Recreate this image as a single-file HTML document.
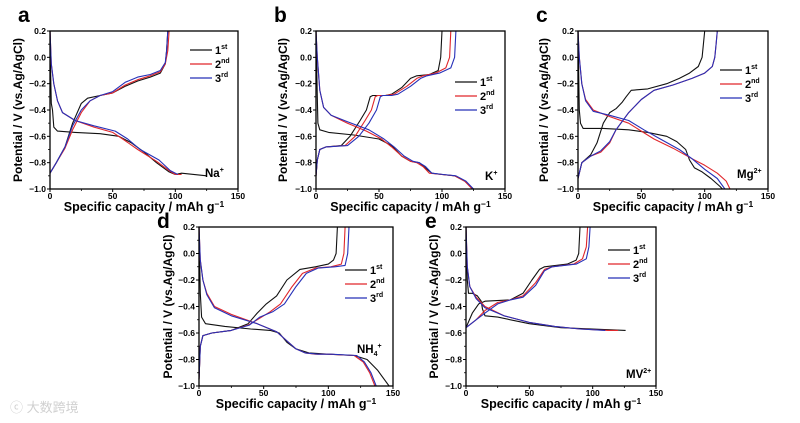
<!DOCTYPE html>
<html><head><meta charset="utf-8"><style>
html,body{margin:0;padding:0;background:#fff;}
svg{display:block;font-family:"Liberation Sans","Noto Sans CJK SC",sans-serif;}
</style></head><body>
<svg id="fig" width="800" height="423" viewBox="0 0 800 423"></svg>
<script>
// ---- data: [capacity mAh/g, potential V] ----
const a_dis_1 = [[0,0.2],[0.5,-0.1],[1,-0.35],[2,-0.4],[3,-0.53],[6,-0.56],[20,-0.57],[40,-0.58],[55,-0.6],[65,-0.65],[75,-0.72],[85,-0.8],[95,-0.87],[100,-0.89],[105,-0.88],[125,-0.9]];
const a_dis_2 = [[0,0.2],[1,-0.05],[3,-0.2],[6,-0.33],[10,-0.42],[20,-0.48],[35,-0.53],[50,-0.57],[58,-0.62],[70,-0.7],[85,-0.79],[95,-0.86],[100,-0.89],[105,-0.89]];
const a_dis_3 = [[0,0.2],[1,-0.05],[3,-0.2],[6,-0.33],[10,-0.42],[20,-0.48],[35,-0.52],[52,-0.56],[62,-0.62],[72,-0.7],[87,-0.78],[96,-0.86],[102,-0.89]];
const a_chg_1 = [[0,-0.88],[5,-0.8],[12,-0.68],[18,-0.5],[25,-0.35],[30,-0.31],[40,-0.29],[50,-0.27],[60,-0.22],[70,-0.18],[80,-0.15],[88,-0.12],[92,-0.05],[93,0.05],[94,0.2]];
const a_chg_2 = [[0,-0.88],[5,-0.8],[12,-0.69],[18,-0.55],[25,-0.42],[32,-0.33],[40,-0.29],[50,-0.27],[60,-0.21],[70,-0.17],[80,-0.14],[88,-0.11],[92,-0.05],[94,0.05],[95,0.2]];
const a_chg_3 = [[0,-0.88],[5,-0.8],[12,-0.68],[18,-0.52],[25,-0.4],[32,-0.33],[40,-0.29],[50,-0.26],[60,-0.19],[70,-0.15],[80,-0.13],[88,-0.1],[92,-0.04],[93,0.05],[94,0.2]];

const b_dis_1 = [[0,0.2],[1,-0.3],[1.5,-0.5],[3,-0.55],[10,-0.57],[30,-0.59],[50,-0.62],[60,-0.67],[68,-0.75],[75,-0.79],[82,-0.8],[88,-0.85],[92,-0.88],[100,-0.89],[110,-0.9],[118,-0.94],[125,-1.0]];
const b_dis_2 = [[0,0.2],[1,0],[3,-0.25],[6,-0.38],[12,-0.44],[25,-0.5],[40,-0.56],[52,-0.62],[60,-0.68],[68,-0.75],[75,-0.79],[80,-0.8],[85,-0.83],[90,-0.88],[100,-0.89],[110,-0.9],[118,-0.94],[124,-1.0]];
const b_dis_3 = [[0,0.2],[1,0],[3,-0.25],[6,-0.38],[12,-0.44],[25,-0.49],[42,-0.55],[54,-0.62],[62,-0.68],[70,-0.75],[77,-0.79],[82,-0.8],[87,-0.83],[92,-0.88],[101,-0.89],[111,-0.9],[119,-0.94],[125,-1.0]];
const b_chg_1 = [[0,-0.9],[1,-0.78],[3,-0.7],[8,-0.68],[20,-0.67],[27,-0.6],[35,-0.48],[40,-0.4],[43,-0.3],[45,-0.29],[55,-0.29],[60,-0.28],[68,-0.23],[75,-0.16],[80,-0.14],[90,-0.13],[97,-0.1],[99,0],[100,0.2]];
const b_chg_2 = [[0,-0.9],[1,-0.78],[3,-0.7],[8,-0.68],[23,-0.67],[31,-0.6],[39,-0.48],[44,-0.4],[47,-0.3],[49,-0.29],[55,-0.29],[62,-0.28],[72,-0.22],[80,-0.16],[85,-0.14],[95,-0.12],[103,-0.08],[106,0],[107,0.2]];
const b_chg_3 = [[0,-0.9],[1,-0.78],[3,-0.7],[8,-0.68],[25,-0.67],[34,-0.6],[42,-0.5],[48,-0.4],[51,-0.3],[53,-0.29],[60,-0.29],[65,-0.28],[75,-0.22],[83,-0.16],[88,-0.14],[98,-0.12],[107,-0.08],[110,0],[111,0.2]];

const c_dis_1 = [[0,0.2],[1,-0.4],[2,-0.5],[4,-0.54],[20,-0.54],[40,-0.55],[55,-0.57],[70,-0.6],[78,-0.64],[85,-0.7],[88,-0.78],[92,-0.84],[98,-0.87],[105,-0.92],[112,-0.98],[114,-1.0]];
const c_dis_2 = [[0,0.2],[1,0],[3,-0.2],[6,-0.32],[12,-0.4],[25,-0.45],[40,-0.5],[50,-0.56],[60,-0.62],[75,-0.69],[90,-0.77],[100,-0.82],[110,-0.88],[117,-0.94],[120,-1.0]];
const c_dis_3 = [[0,0.2],[1,0],[3,-0.2],[6,-0.33],[12,-0.41],[25,-0.44],[40,-0.48],[52,-0.55],[65,-0.62],[80,-0.7],[90,-0.77],[100,-0.85],[110,-0.92],[116,-1.0]];
const c_chg_1 = [[0,-0.92],[3,-0.8],[10,-0.74],[15,-0.65],[20,-0.5],[25,-0.42],[30,-0.39],[35,-0.34],[38,-0.3],[42,-0.25],[55,-0.24],[70,-0.2],[80,-0.16],[88,-0.12],[95,-0.07],[98,0],[99,0.1],[100,0.2]];
const c_chg_2 = [[0,-0.92],[3,-0.8],[10,-0.75],[18,-0.72],[25,-0.65],[30,-0.55],[40,-0.42],[50,-0.32],[60,-0.25],[75,-0.21],[90,-0.16],[100,-0.12],[106,-0.07],[108,0],[109,0.1],[110,0.2]];
const c_chg_3 = [[0,-0.92],[3,-0.8],[10,-0.75],[18,-0.71],[25,-0.64],[30,-0.55],[40,-0.42],[50,-0.32],[60,-0.25],[75,-0.21],[90,-0.16],[100,-0.12],[106,-0.07],[108,0],[109,0.1],[110,0.2]];

const d_dis_1 = [[0,0.2],[1,-0.3],[2,-0.48],[5,-0.53],[20,-0.55],[40,-0.57],[55,-0.58],[62,-0.6],[68,-0.67],[75,-0.72],[85,-0.75],[100,-0.76],[120,-0.77],[130,-0.8],[138,-0.88],[147,-1.0]];
const d_dis_2 = [[0,0.2],[1,-0.05],[3,-0.2],[6,-0.3],[12,-0.4],[25,-0.46],[45,-0.53],[60,-0.59],[68,-0.66],[75,-0.72],[82,-0.75],[90,-0.76],[100,-0.76],[120,-0.77],[127,-0.82],[132,-0.9],[136,-1.0]];
const d_dis_3 = [[0,0.2],[1,-0.05],[3,-0.2],[6,-0.31],[12,-0.41],[25,-0.47],[45,-0.53],[60,-0.59],[68,-0.66],[75,-0.72],[82,-0.75],[92,-0.76],[102,-0.76],[122,-0.77],[128,-0.82],[133,-0.9],[137,-1.0]];
const d_chg_1 = [[0,-0.95],[1,-0.7],[3,-0.62],[10,-0.6],[25,-0.58],[38,-0.53],[45,-0.45],[52,-0.38],[60,-0.32],[68,-0.2],[78,-0.12],[90,-0.1],[100,-0.08],[104,-0.05],[106,0],[107,0.2]];
const d_chg_2 = [[0,-0.95],[1,-0.7],[3,-0.62],[10,-0.6],[25,-0.58],[38,-0.54],[45,-0.5],[55,-0.44],[63,-0.38],[72,-0.25],[80,-0.15],[90,-0.11],[102,-0.1],[110,-0.08],[112,0],[113,0.2]];
const d_chg_3 = [[0,-0.95],[1,-0.7],[3,-0.62],[10,-0.6],[25,-0.58],[39,-0.54],[47,-0.48],[57,-0.44],[66,-0.38],[75,-0.25],[83,-0.15],[92,-0.11],[105,-0.1],[113,-0.09],[115,0],[116,0.2]];

const e_dis_1 = [[0,0.2],[1,-0.2],[2,-0.3],[5,-0.3],[9,-0.32],[12,-0.36],[13,-0.42],[15,-0.47],[25,-0.48],[50,-0.53],[75,-0.56],[100,-0.57],[126,-0.58]];
const e_dis_2 = [[0,0.2],[1,-0.1],[3,-0.25],[8,-0.33],[15,-0.4],[30,-0.47],[50,-0.52],[70,-0.55],[90,-0.57],[112,-0.58],[120,-0.58]];
const e_dis_3 = [[0,0.2],[1,-0.1],[3,-0.25],[8,-0.34],[15,-0.41],[30,-0.47],[50,-0.52],[70,-0.55],[90,-0.57],[110,-0.58]];
const e_chg_1 = [[0,-0.56],[5,-0.45],[10,-0.38],[15,-0.36],[35,-0.35],[45,-0.3],[52,-0.2],[58,-0.12],[62,-0.1],[80,-0.08],[87,-0.05],[89,0],[90,0.2]];
const e_chg_2 = [[0,-0.56],[8,-0.5],[15,-0.43],[25,-0.37],[35,-0.35],[45,-0.32],[55,-0.22],[62,-0.12],[68,-0.1],[85,-0.08],[92,-0.04],[95,0.05],[96,0.2]];
const e_chg_3 = [[0,-0.56],[8,-0.5],[15,-0.45],[25,-0.38],[35,-0.35],[45,-0.33],[55,-0.24],[62,-0.13],[68,-0.1],[87,-0.08],[95,-0.04],[97,0.05],[98,0.2]];

const xTicks = [0,50,100,150];
const yTicks = [-1.0,-0.8,-0.6,-0.4,-0.2,0.0,0.2];
const cycleLabels = ["1","2","3"];
const cycleSup = ["st","nd","rd"];
const colors = ["#111","#e0262b","#2630b8"];

const panels = [
 {id:"a",x0:50,x1:238,y0:31,y1:189,lx:18,ly:22,ylx:22,leg:[190,50],ion:["Na","+",""],ionp:[205,177],data:[[a_dis_1,a_chg_1],[a_dis_2,a_chg_2],[a_dis_3,a_chg_3]]},
 {id:"b",x0:316,x1:505,y0:31,y1:189,lx:274,ly:22,ylx:287,leg:[455,82],ion:["K","+",""],ionp:[485,180],data:[[b_dis_1,b_chg_1],[b_dis_2,b_chg_2],[b_dis_3,b_chg_3]]},
 {id:"c",x0:578,x1:768,y0:31,y1:189,lx:536,ly:22,ylx:548,leg:[720,70],ion:["Mg","2+",""],ionp:[737,178],data:[[c_dis_1,c_chg_1],[c_dis_2,c_chg_2],[c_dis_3,c_chg_3]]},
 {id:"d",x0:199,x1:393,y0:227,y1:386,lx:157,ly:228,ylx:172,leg:[345,270],ion:["NH","+","4"],ionp:[357,353],data:[[d_dis_1,d_chg_1],[d_dis_2,d_chg_2],[d_dis_3,d_chg_3]]},
 {id:"e",x0:466,x1:656,y0:227,y1:386,lx:425,ly:228,ylx:438,leg:[608,250],ion:["MV","2+",""],ionp:[626,378],data:[[e_dis_1,e_chg_1],[e_dis_2,e_chg_2],[e_dis_3,e_chg_3]]}
];

const NS="http://www.w3.org/2000/svg";
const svg=document.getElementById("fig");
function mk(tag,attrs,parent){const e=document.createElementNS(NS,tag);for(const k in attrs)e.setAttribute(k,attrs[k]);(parent||svg).appendChild(e);return e;}

panels.forEach(p=>{
  const g=mk("g",{});
  
  
  const sx=v=>p.x0+(v-0)/(150-0)*(p.x1-p.x0);
  const sy=v=>p.y1-(v-(-1))/(0.2-(-1))*(p.y1-p.y0);
  // panel letter
  const L=mk("text",{x:p.lx,y:p.ly,"font-size":21,"font-weight":"bold",fill:"#000"},g);
  L.textContent=p.id;
  
  
  // curves
  p.data.forEach((cyc,i)=>{
    cyc.forEach((series,j)=>{
      const pts=series.map(d=>sx(d[0]).toFixed(1)+","+sy(d[1]).toFixed(1)).join(" ");
      const pl=mk("polyline",{points:pts,fill:"none",stroke:colors[i],"stroke-width":1.1,"stroke-linejoin":"round"},g);
      
      
    });
  });
  // frame
  const fr=mk("rect",{x:p.x0,y:p.y0,width:p.x1-p.x0,height:p.y1-p.y0,fill:"none",stroke:"#000","stroke-width":1.3},g);
  
  
  // x ticks
  xTicks.forEach(t=>{
    const X=sx(t);
    mk("line",{x1:X,x2:X,y1:p.y1,y2:p.y1+3,stroke:"#000","stroke-width":1},g);
    const tx=mk("text",{x:X,y:p.y1+10,"font-size":8.5,"font-weight":"bold","text-anchor":"middle"},g);
    tx.textContent=String(t);
    
    
  });
  for(let t=25;t<150;t+=50){const X=sx(t);mk("line",{x1:X,x2:X,y1:p.y1,y2:p.y1+2,stroke:"#000","stroke-width":0.8},g);}
  yTicks.forEach(t=>{
    const Y=sy(t);
    mk("line",{x1:p.x0-3,x2:p.x0,y1:Y,y2:Y,stroke:"#000","stroke-width":1},g);
    const ty=mk("text",{x:p.x0-4,y:Y+3,"font-size":8.5,"font-weight":"bold","text-anchor":"end"},g);
    ty.textContent=(t<0?"\u2212":"")+Math.abs(t).toFixed(1);
    
    
  });
  for(let t=-0.9;t<0.2;t+=0.2){const Y=sy(t);mk("line",{x1:p.x0-2,x2:p.x0,y1:Y,y2:Y,stroke:"#000","stroke-width":0.8},g);}
  // axis titles
  const xt=mk("text",{x:(p.x0+p.x1)/2,y:p.y1+22,"font-size":12.5,"font-weight":"bold","text-anchor":"middle"},g);
  xt.innerHTML='Specific capacity / mAh g<tspan dy="-4" font-size="8.5">\u22121</tspan>';
  
  
  const yt=mk("text",{x:0,y:0,"font-size":12,"font-weight":"bold","text-anchor":"middle",transform:`translate(${p.ylx},${(p.y0+p.y1)/2}) rotate(-90)`},g);
  yt.textContent="Potential / V (vs.Ag/AgCl)";
  
  
  // legend
  cycleLabels.forEach((c,i)=>{
    const ly=p.leg[1]+i*14;
    const lg=mk("g",{},g);
    
    
    mk("line",{x1:p.leg[0],x2:p.leg[0]+22,y1:ly,y2:ly,stroke:colors[i],"stroke-width":1.2},lg);
    const lt=mk("text",{x:p.leg[0]+25,y:ly+4,"font-size":11,"font-weight":"bold"},lg);
    lt.innerHTML=c+'<tspan dy="-5" font-size="7">'+cycleSup[i]+'</tspan>';
  });
  // ion label
  const it=mk("text",{x:p.ionp[0],y:p.ionp[1],"font-size":11.5,"font-weight":"bold"},g);
  it.innerHTML=p.ion[0]+(p.ion[2]?'<tspan dy="3" font-size="7">'+p.ion[2]+'</tspan><tspan dy="-8" font-size="7">'+p.ion[1]+'</tspan>':'<tspan dy="-5" font-size="7">'+p.ion[1]+'</tspan>');
  
  
});
// watermark
const wm=mk("text",{x:10,y:412,"font-size":13,fill:"#d0d0d0"});
wm.textContent="\u24D2 大数跨境";


</script>
</body></html>
